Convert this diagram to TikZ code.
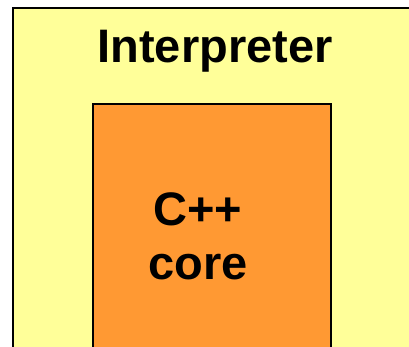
\documentclass[tikz,border=0pt]{standalone}
\usepackage{fontspec}
\setmainfont{Liberation Sans}
\definecolor{shellyellow}{HTML}{FFFF99}
\definecolor{coreorange}{HTML}{FF9933}
\tikzset{
  layer/.style={draw=black, line width=2pt, inner sep=0pt, anchor=north west},
  caption/.style={font=\fontsize{47}{54}\selectfont\bfseries, text=black, inner sep=0pt, align=center}
}
\begin{document}
\begin{tikzpicture}[x=1pt,y=1pt]
  \useasboundingbox (0,0) rectangle (409,-347);
  \begin{scope}
    \clip (0,0) rectangle (409,-347);
    % outer layer: the interpreter
    \node[layer, fill=shellyellow, minimum width=410pt, minimum height=360pt] (shell) at (12,-7) {};
    % inner layer: the C++ core
    \node[layer, fill=coreorange, minimum width=238.5pt, minimum height=260pt] (core) at (91.5,-103.5) {};
  \end{scope}
  \node[caption, anchor=base] (shelltext) at (215,-63) {Interpreter};
  % base anchor of a two-line node sits on its last line
  \node[caption, anchor=base] (coretext) at (198,-279) {C++\\core};
\end{tikzpicture}
\end{document}
